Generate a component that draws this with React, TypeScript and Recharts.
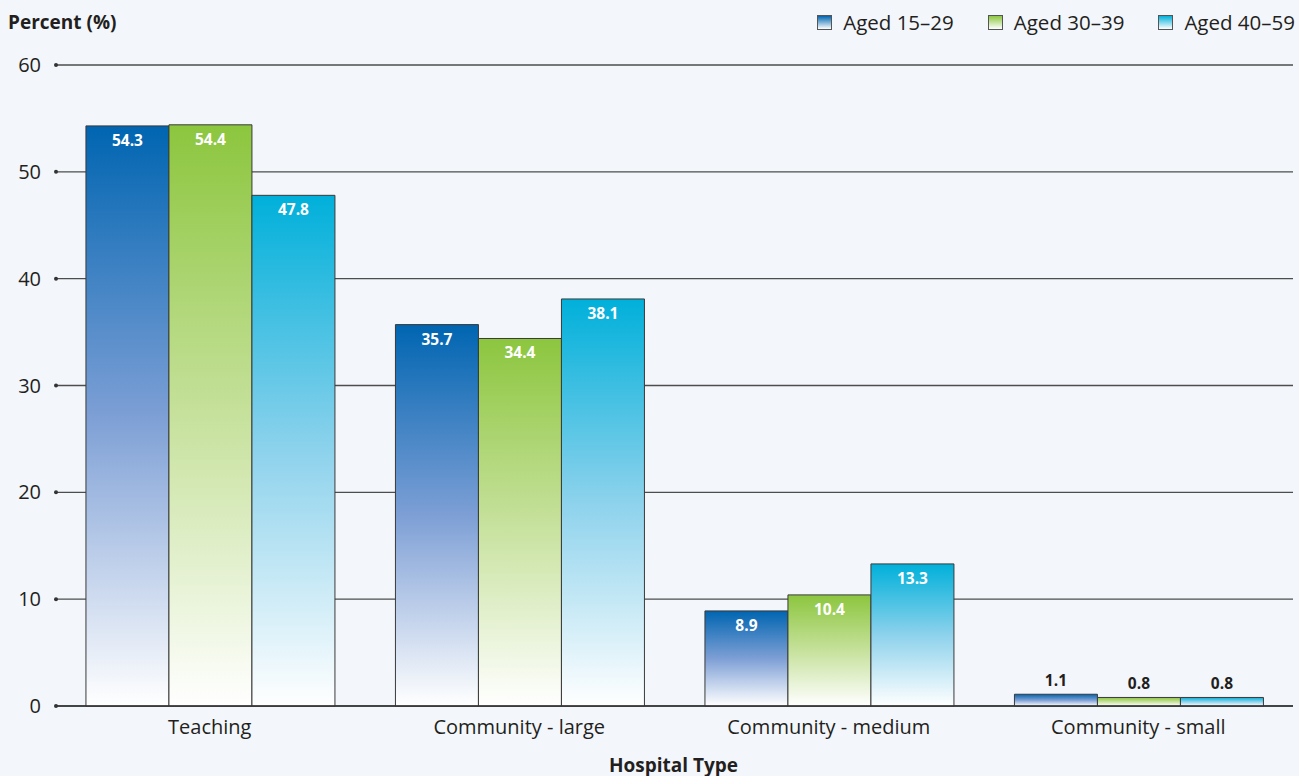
import { Bar, BarChart, CartesianGrid, LabelList, XAxis, YAxis } from 'recharts';

const HOSPITAL_TYPES = ['Teaching', 'Community - large', 'Community - medium', 'Community - small'];
const AGED_15_29 = [54.3, 35.7, 8.9, 1.1];
const AGED_30_39 = [54.4, 34.4, 10.4, 0.8];
const AGED_40_59 = [47.8, 38.1, 13.3, 0.8];
const Y_TICKS = [0, 10, 20, 30, 40, 50, 60];

const SERIES = [
  { key: 'young', name: 'Aged 15–29', top: '#0065b1', mid: '#7d9fd5', grad: 'gradBlue' },
  { key: 'middle', name: 'Aged 30–39', top: '#8cc63e', mid: '#c6e19c', grad: 'gradGreen' },
  { key: 'older', name: 'Aged 40–59', top: '#00b0da', mid: '#8dd2ec', grad: 'gradCyan' },
];

const data = HOSPITAL_TYPES.map((type, i) => ({
  type,
  young: AGED_15_29[i],
  middle: AGED_30_39[i],
  older: AGED_40_59[i],
}));

const FONT = '"Open Sans", "DejaVu Sans", sans-serif';
const TEXT = '#231f20';

function YTick(props: any) {
  const { x, y, payload } = props;
  return (
    <g>
      <circle cx={x + 9} cy={y} r={2} fill="#333" />
      <text x={x - 6} y={y} dy={7} textAnchor="end" fill={TEXT} fontSize={20} fontFamily={FONT}>
        {payload.value}
      </text>
    </g>
  );
}

function XTick(props: any) {
  const { x, y, payload } = props;
  return (
    <text x={x} y={y} dy={20} textAnchor="middle" fill={TEXT} fontSize={20} fontFamily={FONT}>
      {payload.value}
    </text>
  );
}

function BarValue(props: any) {
  const { x, y, width, value } = props;
  const small = value < 2;
  return (
    <text
      x={x + width / 2}
      y={small ? y - 8 : y + 20}
      textAnchor="middle"
      fill={small ? TEXT : '#ffffff'}
      fontSize={15.5}
      fontWeight="bold"
      fontFamily={FONT}
    >
      {value.toFixed(1)}
    </text>
  );
}

function LegendBox() {
  return (
    <div style={{ display: 'flex', gap: 34, fontFamily: FONT, fontSize: 20.5, color: TEXT, lineHeight: '24px' }}>
      {SERIES.map((s) => (
        <div key={s.key} style={{ display: 'flex', alignItems: 'center' }}>
          <span
            style={{
              display: 'inline-block',
              width: 13,
              height: 13,
              marginRight: 11,
              border: '1px solid #555',
              background: `linear-gradient(${s.top}, #ffffff)`,
            }}
          />
          {s.name}
        </div>
      ))}
    </div>
  );
}

export default function App() {
  return (
    <div style={{ position: 'absolute', left: 0, top: 0, width: 1299, height: 776, background: '#f3f6fb' }}>
      <div
        style={{
          position: 'absolute',
          left: 8,
          top: 9,
          fontFamily: FONT,
          fontWeight: 'bold',
          fontSize: 19,
          color: TEXT,
        }}
      >
        Percent (%)
      </div>
      <div style={{ position: 'absolute', right: 4, top: 10 }}>
        <LegendBox />
      </div>
      <div
        style={{
          position: 'absolute',
          left: 0,
          top: 752,
          width: 1299,
          textAlign: 'center',
          paddingLeft: 48,
          boxSizing: 'border-box',
          fontFamily: FONT,
          fontWeight: 'bold',
          fontSize: 19,
          lineHeight: '26px',
          color: TEXT,
        }}
      >
        Hospital Type
      </div>
      <div style={{ position: 'absolute', left: 0, top: 0 }}>
        <BarChart
          width={1299}
          height={776}
          data={data}
          margin={{ top: 65, right: 6, bottom: 40, left: 0 }}
          barCategoryGap="10%"
          barGap={0}
        >
          <defs>
            {SERIES.map((s) => (
              <linearGradient key={s.grad} id={s.grad} x1="0" y1="0" x2="0" y2="1">
                <stop offset="0%" stopColor={s.top} />
                <stop offset="50%" stopColor={s.mid} />
                <stop offset="100%" stopColor="#ffffff" />
              </linearGradient>
            ))}
          </defs>
          <CartesianGrid vertical={false} stroke="#4d4d4d" strokeWidth={1.3} />
          <XAxis
            dataKey="type"
            height={30}
            axisLine={{ stroke: '#333', strokeWidth: 1.5 }}
            tickLine={false}
            tick={<XTick />}
          />
          <YAxis
            domain={[0, 60]}
            ticks={Y_TICKS}
            width={55}
            axisLine={false}
            tickLine={false}
            tick={<YTick />}
            interval={0}
          />
          {SERIES.map((s) => (
            <Bar
              key={s.key}
              dataKey={s.key}
              name={s.name}
              fill={`url(#${s.grad})`}
              stroke="#3a3a3a"
              strokeWidth={1}
              isAnimationActive={false}
            >
              <LabelList dataKey={s.key} content={<BarValue />} />
            </Bar>
          ))}
        </BarChart>
      </div>
    </div>
  );
}
